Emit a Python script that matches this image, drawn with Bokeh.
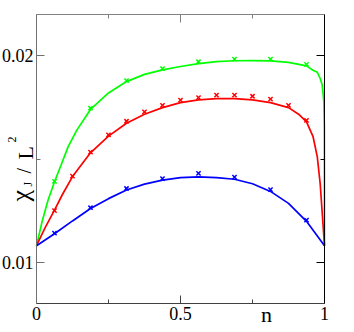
import math
from bokeh.plotting import figure
from bokeh.models import FixedTicker, LinearAxis, Label, Range1d
from bokeh.embed import file_html
from bokeh.resources import INLINE

# ---------------- data ----------------
x_ticks = [0, 0.5, 1]
x_minor = [0.25, 0.75]
x_tick_labels = {0: "0", 0.5: "0.5", 1: "1"}
y_ticks = [0.01, 0.02]
y_minor = [0.015]
y_tick_labels = {0.01: "0.01", 0.02: "0.02"}

# markers (simulation points)
n_odd = [0.0625, 0.1875, 0.3125, 0.4375, 0.5625, 0.6875, 0.8125, 0.9375]
n_all = [0.0625, 0.125, 0.1875, 0.25, 0.3125, 0.375, 0.4375, 0.5,
         0.5625, 0.625, 0.6875, 0.75, 0.8125, 0.875, 0.9375]
green_pts = [0.01392, 0.01746, 0.01880, 0.01938, 0.01971, 0.01984, 0.01984, 0.01958]
red_pts = [0.01250, 0.01417, 0.01533, 0.01617, 0.01683, 0.01728, 0.01760, 0.01785,
           0.01797, 0.01809, 0.01809, 0.01804, 0.01790, 0.01760, 0.01687]
blue_pts = [0.01141, 0.01264, 0.01357, 0.01405, 0.01430, 0.01412, 0.01352, 0.01204]

# curves
green_n = [0, 0.02, 0.04, 0.0625, 0.085, 0.11, 0.14, 0.1875, 0.25, 0.3125, 0.375,
           0.4375, 0.5, 0.5625, 0.625, 0.6875, 0.75, 0.8125, 0.875, 0.9375, 0.96,
           0.975, 0.985, 0.992, 0.9976, 0.9995, 1.0]
green_v = [0.0108, 0.0120, 0.0130, 0.0139, 0.0147, 0.0156, 0.0164, 0.0174, 0.0182,
           0.01875, 0.0191, 0.01932, 0.01948, 0.01962, 0.01972, 0.01976, 0.01977,
           0.01975, 0.01968, 0.01951, 0.0193, 0.0192, 0.0189, 0.0186, 0.0178,
           0.0165, 0.0108]
red_n = [0, 0.03, 0.0625, 0.09, 0.125, 0.1875, 0.25, 0.3125, 0.375, 0.4375, 0.5,
         0.5625, 0.625, 0.6875, 0.75, 0.8125, 0.875, 0.91, 0.9375, 0.96, 0.975,
         0.985, 0.995, 1.0]
red_v = [0.0108, 0.01168, 0.01252, 0.01328, 0.01415, 0.0153, 0.01611, 0.01673,
         0.01717, 0.01749, 0.01773, 0.01786, 0.01792, 0.01792, 0.01786, 0.01773,
         0.01749, 0.01717, 0.0168, 0.0161, 0.0151, 0.0138, 0.0118, 0.0108]
blue_n = [0, 0.0625, 0.125, 0.1875, 0.25, 0.3125, 0.375, 0.4375, 0.5, 0.5625,
          0.625, 0.6875, 0.75, 0.8125, 0.875, 0.9375, 1.0]
blue_v = [0.0108, 0.01138, 0.01200, 0.01260, 0.01308, 0.01350, 0.01378, 0.01398,
          0.01410, 0.01413, 0.01410, 0.01402, 0.01380, 0.01343, 0.01285, 0.01198,
          0.0108]

X0, X1 = 0.0, 1.0          # visible data box
Y0, Y1 = 0.008, 0.022

# canvas-pixel geometry of the data box
FL, FR, FT, FB = 36.0, 324.0, 14.0, 303.0
W, H = 352, 330


def xd(px):
    return X0 + (px - FL) / (FR - FL) * (X1 - X0)


def yd(py):
    return Y1 - (py - FT) / (FB - FT) * (Y1 - Y0)


# the frame covers the whole canvas; the axes are pinned at the data box edges
p = figure(width=W, height=H, output_backend="svg", toolbar_location=None,
           x_range=Range1d(xd(0), xd(W)), y_range=Range1d(yd(H), yd(0)),
           x_axis_type=None, y_axis_type=None,
           min_border=0, min_border_left=0, min_border_right=0,
           min_border_top=0, min_border_bottom=0)
p.outline_line_color = None
p.background_fill_color = "white"
p.border_fill_color = "white"

SERIF = "Liberation Serif"


def make_axis(ticks, minor, labels, color, show, loc, bounds):
    ax = LinearAxis(ticker=FixedTicker(ticks=ticks, minor_ticks=minor),
                    fixed_location=loc, bounds=bounds)
    ax.axis_line_color = color
    ax.axis_line_width = 1
    ax.major_tick_line_color = color
    ax.minor_tick_line_color = color
    ax.major_tick_in = 8
    ax.major_tick_out = 0
    ax.minor_tick_in = 4
    ax.minor_tick_out = 0
    if show:
        ax.major_label_overrides = labels
        ax.major_label_text_font = SERIF
        ax.major_label_text_font_size = "18px"
        ax.major_label_text_color = "black"
        ax.major_label_standoff = 3
    else:
        ax.major_label_text_color = None
        ax.major_label_text_font_size = "1px"
        ax.major_label_standoff = 0
    return ax


p.add_layout(make_axis(y_ticks, y_minor, y_tick_labels, "#707070", True, X0, (Y0, Y1)), "left")
p.add_layout(make_axis(y_ticks, y_minor, y_tick_labels, "black", False, X1, (Y0, Y1)), "right")
p.add_layout(make_axis(x_ticks, x_minor, x_tick_labels, "#404040", True, Y0, (X0, X1)), "below")
p.add_layout(make_axis(x_ticks, x_minor, x_tick_labels, "#808080", False, Y1, (X0, X1)), "above")

# curves
p.line(green_n, green_v, line_color="#00ff00", line_width=1.7)
p.line(red_n, red_v, line_color="#ff0000", line_width=1.7)
p.line(blue_n, blue_v, line_color="#0000ff", line_width=1.7)

# markers
p.scatter(n_odd, green_pts, marker="x", size=6, line_color="#00ff00", line_width=1.5)
p.scatter(n_all, red_pts, marker="x", size=6, line_color="#ff0000", line_width=1.5)
p.scatter(n_odd, blue_pts, marker="x", size=6, line_color="#0000ff", line_width=1.5)

# x axis label "n"
p.add_layout(Label(x=xd(266), y=yd(326), text="n", text_font=SERIF,
                   text_font_size="22px", text_align="center",
                   text_baseline="bottom", text_color="black"))

# y axis label  chi_J / L^2 (rotated pieces: text, baseline x, start y, size)
pieces = [
    ("χ", 20, 201, "26px"),
    ("J", 27, 186, "12px"),
    ("/", 23, 173, "20px"),
    ("L", 25, 159, "22px"),
    ("2", 11, 142, "12px"),
]
for txt, px, py, fs in pieces:
    p.add_layout(Label(x=xd(px), y=yd(py), text=txt, text_font=SERIF,
                       text_font_size=fs, angle=math.pi / 2,
                       text_align="left", text_baseline="alphabetic",
                       text_color="black"))

open("out.html", "w").write(file_html(p, INLINE))
